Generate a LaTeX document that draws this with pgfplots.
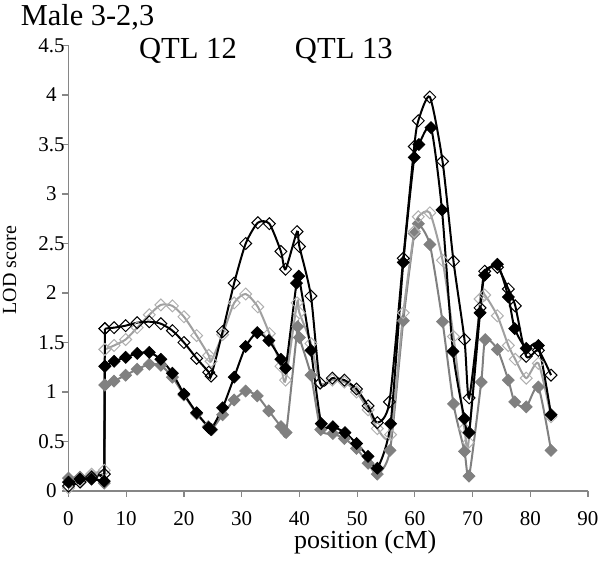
\documentclass[border=0pt]{standalone}
\usepackage{fontspec}
\setmainfont{Liberation Serif}
\usepackage{pgfplots}
\pgfplotsset{compat=1.18}
\definecolor{axisgray}{RGB}{134,134,134}
\definecolor{dgray}{RGB}{128,128,128}
\definecolor{lgray}{RGB}{160,160,160}
\definecolor{lmark}{RGB}{175,175,175}
\begin{document}
\begin{tikzpicture}
\path[use as bounding box] (-34.25bp,-36bp) rectangle (265.75bp,245.5bp);
\begin{axis}[
 scale only axis, width=259.75bp, height=222.75bp,
 xmin=0, xmax=90, ymin=0, ymax=4.5,
 axis x line=bottom, axis y line=left,
 axis line style={axisgray, line width=0.6bp, -},
 xtick={0,10,20,30,40,50,60,70,80,90},
 ytick={0,0.5,1,1.5,2,2.5,3,3.5,4,4.5},
 yticklabels={0,0.5,1,1.5,2,2.5,3,3.5,4,4.5},
 tick align=outside, major tick length=3bp,
 tick style={axisgray, line width=0.6bp},
 clip=false,
 /pgf/number format/assume math mode=true,
 ticklabel style={font=\fontsize{10.5bp}{12bp}\selectfont, text=black, inner sep=1bp},
 yticklabel style={anchor=center, xshift=-5.5bp},
 xticklabel style={anchor=center, yshift=-11bp},
 every axis plot/.append style={line width=1bp},
]
% D: gray filled
\addplot[dgray, sharp plot, mark=square*, mark size=2.1bp, mark options={rotate=45, fill=dgray, draw=dgray, line width=0.4bp}] table {
0 0.13
2 0.14
4 0.15
6.2 0.08
6.3 1.07
};
\addplot[dgray, smooth, tension=0.4, mark=square*, mark size=2.1bp, mark options={rotate=45, fill=dgray, draw=dgray, line width=0.4bp}] table {
6.3 1.07
7.9 1.11
9.9 1.17
11.9 1.23
14 1.28
16 1.27
18 1.15
20 0.97
22.2 0.78
24.2 0.65
24.8 0.62
26.7 0.77
28.7 0.92
30.7 1.01
32.7 0.96
34.7 0.81
36.8 0.65
37.7 0.59
39.7 1.66
40.0 1.55
42.0 1.17
43.7 0.62
45.8 0.58
47.8 0.53
49.9 0.43
51.9 0.28
53.5 0.17
55.7 0.41
58.0 1.72
59.9 2.60
60.6 2.70
62.6 2.49
64.8 1.71
66.7 0.88
68.6 0.40
69.4 0.15
71.5 1.10
72.2 1.53
74.3 1.43
76.2 1.12
77.3 0.90
79.3 0.85
81.4 1.05
83.6 0.41
};
% C: light gray open
\addplot[lgray, sharp plot, mark=square, mark size=2.1bp, mark options={rotate=45, fill=white, draw=lmark, line width=0.5bp}] table {
0 0.03
2 0.10
4 0.17
6.2 0.21
6.3 1.43
};
\addplot[lgray, smooth, tension=0.4, mark=square, mark size=2.1bp, mark options={rotate=45, fill=white, draw=lmark, line width=0.5bp}] table {
6.3 1.43
7.9 1.47
9.9 1.53
11.9 1.65
14 1.78
16 1.88
18 1.87
20 1.76
22.2 1.57
24.3 1.37
24.7 1.31
26.7 1.58
28.7 1.90
30.7 1.99
32.8 1.86
34.8 1.59
36.8 1.26
37.6 1.12
39.6 1.90
40.0 1.80
42.0 1.49
43.6 1.09
45.7 1.12
47.8 1.10
49.9 1.00
51.9 0.82
53.5 0.63
55.8 0.57
58.0 1.80
59.9 2.62
60.6 2.77
62.6 2.81
64.8 2.33
66.7 1.56
68.6 0.63
69.3 0.49
71.3 1.94
72.1 1.98
74.3 1.77
76.2 1.47
77.4 1.33
79.3 1.14
81.4 1.29
83.6 0.75
};
% B: black filled
\addplot[black, sharp plot, mark=square*, mark size=2.1bp, mark options={rotate=45, fill=black, draw=black, line width=0.4bp}] table {
0 0.09
2 0.12
4 0.12
6.2 0.10
6.3 1.26
};
\addplot[black, smooth, tension=0.4, mark=square*, mark size=2.1bp, mark options={rotate=45, fill=black, draw=black, line width=0.4bp}] table {
6.3 1.26
7.9 1.31
9.9 1.35
11.9 1.39
14 1.40
16 1.33
18 1.19
20 0.98
22.2 0.79
24.3 0.64
24.7 0.62
26.7 0.84
28.7 1.15
30.7 1.46
32.7 1.60
34.7 1.52
36.8 1.33
37.6 1.24
39.5 2.10
39.9 2.17
42.0 1.42
43.8 0.68
45.8 0.65
47.9 0.59
49.9 0.48
51.9 0.35
53.5 0.23
55.8 0.68
58.0 2.31
59.9 3.37
60.7 3.50
62.8 3.67
64.7 2.84
66.6 1.41
68.6 0.73
69.4 0.59
71.3 1.80
72.1 2.18
74.3 2.29
76.2 1.96
77.3 1.64
79.3 1.44
81.4 1.47
83.6 0.77
};
% A: black open
\addplot[black, sharp plot, mark=square, mark size=2.1bp, mark options={rotate=45, fill=white, draw=black, line width=0.5bp}] table {
0 0.05
2 0.09
4 0.14
6.2 0.17
6.3 1.64
};
\addplot[black, smooth, tension=0.4, mark=square, mark size=2.1bp, mark options={rotate=45, fill=white, draw=black, line width=0.5bp}] table {
6.3 1.64
7.9 1.65
9.9 1.67
11.9 1.70
14 1.71
16 1.69
18 1.62
20 1.50
22.2 1.34
24.3 1.20
24.7 1.16
26.7 1.61
28.7 2.10
30.7 2.50
32.8 2.71
34.8 2.70
36.8 2.42
37.6 2.24
39.6 2.62
40.0 2.47
42.0 1.97
43.6 1.09
45.7 1.14
47.8 1.12
49.9 1.03
51.9 0.86
53.5 0.69
55.6 0.90
58.0 2.35
59.9 3.48
60.6 3.74
62.6 3.98
64.8 3.33
66.7 2.32
68.6 1.53
69.4 0.94
71.3 1.85
72.1 2.22
74.3 2.26
76.2 2.04
77.4 1.87
79.3 1.36
81.4 1.42
83.6 1.17
};
\node[font=\fontsize{15.2bp}{18bp}\selectfont] at (axis cs:3.3,4.79) {Male 3-2,3};
\node[font=\fontsize{15.3bp}{18bp}\selectfont] at (axis cs:20.7,4.45) {QTL 12};
\node[font=\fontsize{15.3bp}{18bp}\selectfont] at (axis cs:47.7,4.45) {QTL 13};
\node[font=\fontsize{10bp}{12bp}\selectfont, rotate=90] at (axis cs:-10.2,2.23) {LOD score};
\node[font=\fontsize{13bp}{16bp}\selectfont, inner sep=1bp] at (axis cs:51.4,-0.52) {position (cM)};
\end{axis}
\end{tikzpicture}
\end{document}
